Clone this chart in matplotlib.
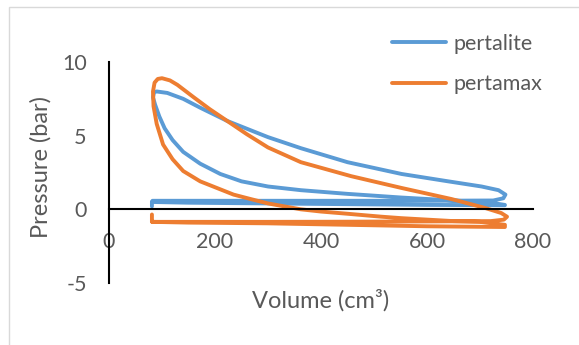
import matplotlib
matplotlib.use("Agg")
import matplotlib.pyplot as plt
from matplotlib.patches import Rectangle

plt.rcParams['font.family'] = ['Lato', 'DejaVu Sans']
plt.rcParams['axes.unicode_minus'] = False

# Pertalite cycle (Volume cm3, Pressure bar), in drawing order
pertalite_v = [81, 81, 150, 300, 450, 600, 747,
               747, 720, 650, 552, 450, 362, 300, 250, 210, 172, 140, 120, 105, 95, 87, 83,
               85, 90, 110, 140, 172, 223, 300, 362, 450, 552, 640, 703, 735, 748, 744, 725,
               600, 450, 300, 150, 82]
pertalite_p = [0.2, 0.5, 0.45, 0.4, 0.35, 0.3, 0.28,
               0.3, 0.45, 0.6, 0.8, 1.05, 1.3, 1.55, 1.9, 2.4, 3.1, 3.9, 4.7, 5.5, 6.3, 7.1, 7.6,
               7.95, 8.0, 7.9, 7.5, 6.9, 6.0, 4.9, 4.15, 3.2, 2.4, 1.9, 1.55, 1.3, 1.0, 0.75, 0.6,
               0.58, 0.58, 0.58, 0.58, 0.58]

# Pertamax cycle
pertamax_v = [81, 81, 150, 300, 450, 600, 747,
              747, 700, 650, 552, 514, 450, 400, 362, 300, 267, 235, 200, 172, 140, 120, 102, 90, 84, 83,
              86, 92, 100, 115, 129, 160, 190, 223, 260, 300, 362, 457, 552, 646, 709, 740, 751, 745, 720,
              600, 450, 300, 150, 82]
pertamax_p = [-0.35, -0.85, -0.9, -0.95, -1.05, -1.15, -1.2,
              -1.05, -0.85, -0.8, -0.6, -0.5, -0.3, -0.15, 0.0, 0.4, 0.7, 1.0, 1.5, 1.9, 2.6, 3.4, 4.4, 5.8, 7.0, 8.0,
              8.6, 8.85, 8.9, 8.75, 8.45, 7.6, 6.8, 6.0, 5.1, 4.2, 3.2, 2.25, 1.45, 0.7, 0.1, -0.25, -0.5, -0.7, -0.8,
              -0.82, -0.84, -0.85, -0.85, -0.85]

x_ticks = [0, 200, 400, 600, 800]
y_ticks = [-5, 0, 5, 10]

W, H = 579, 345
fig = plt.figure(figsize=(W / 100, H / 100), dpi=100)
ax = fig.add_axes([109 / W, 1 - 283 / H, (533 - 109) / W, (283 - 62) / H])

blue = '#5B9BD5'
orange = '#ED7D31'
ax.plot(pertalite_v, pertalite_p, color=blue, lw=2.8, label='pertalite',
        solid_capstyle='round', solid_joinstyle='round')
ax.plot(pertamax_v, pertamax_p, color=orange, lw=2.8, label='pertamax',
        solid_capstyle='round', solid_joinstyle='round')

ax.set_xlim(0, 800)
ax.set_ylim(-5, 10)
ax.set_xticks(x_ticks)
ax.set_yticks(y_ticks)
ax.spines['top'].set_visible(False)
ax.spines['right'].set_visible(False)
ax.spines['left'].set_position(('data', 0))
ax.spines['bottom'].set_position(('data', 0))
for s in ('left', 'bottom'):
    ax.spines[s].set_color('black')
    ax.spines[s].set_linewidth(1.5)
ax.tick_params(axis='both', length=0, labelsize=15.5, labelcolor='#595959')
ax.tick_params(axis='x', pad=16)
ax.tick_params(axis='y', pad=16)
ax.patch.set_alpha(0)

fig.text(41 / W, 1 - 167 / H, 'Pressure (bar)', rotation=90, ha='center', va='center',
         fontsize=17, color='#595959')
fig.text(321 / W, 1 - 300 / H, 'Volume (cm³)', ha='center', va='center',
         fontsize=17, color='#595959')

leg = ax.legend(loc='upper left', bbox_to_anchor=(392 / W, 1 - 34 / H),
                bbox_transform=fig.transFigure, frameon=False, fontsize=15.5,
                handlelength=2.5, handletextpad=0.35, labelspacing=0.95,
                borderpad=0, borderaxespad=0)
for t in leg.get_texts():
    t.set_color('#595959')

fig.patches.append(Rectangle((9 / W, -0.1), 1.2, 1 - 7 / H + 0.1, transform=fig.transFigure,
                             fill=False, edgecolor='#D9D9D9', lw=1.0))

fig.savefig('out.png', dpi=100)
